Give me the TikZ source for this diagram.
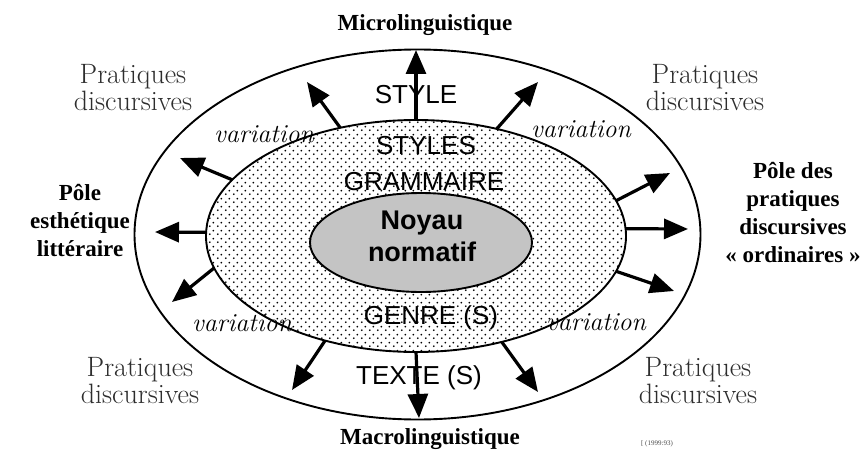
\documentclass[tikz,border=0pt]{standalone}
\usepackage{fontspec}
\setsansfont{Liberation Sans}
\newfontfamily\timesfont{Liberation Serif}
\usetikzlibrary{shapes.geometric,arrows.meta,patterns}
\pgfdeclarepatternformonly{sparsedots}{\pgfqpoint{0pt}{0pt}}{\pgfqpoint{8pt}{8pt}}{\pgfqpoint{8pt}{8pt}}{%
  \pgfpathcircle{\pgfqpoint{2pt}{2pt}}{1.1pt}%
  \pgfpathcircle{\pgfqpoint{6pt}{6pt}}{1.1pt}%
  \pgfusepath{fill}}
\definecolor{coregray}{RGB}{196,196,196}
\definecolor{txtgray}{RGB}{45,45,45}
\tikzset{
  ring/.style={ellipse, draw, line width=1.9pt, inner sep=0pt, outer sep=0pt},
  push/.style={line width=3.2pt, -{Triangle[length=24pt,width=20pt]}},
  sanslabel/.style={font=\sffamily\fontsize{26}{28}\selectfont, inner sep=0pt},
  varlabel/.style={font=\itshape\fontsize{26}{28}\selectfont, inner sep=0pt},
  praclabel/.style={font=\fontsize{28}{27}\selectfont, align=center, inner sep=0pt, text=txtgray},
  polelabel/.style={font=\timesfont\bfseries\fontsize{23}{28}\selectfont, align=center, inner sep=0pt},
}
\begin{document}
\begin{tikzpicture}[x=1pt,y=-1pt]
\useasboundingbox[fill=white] (0,0) rectangle (863,452);
% ellipses
\node[ring, minimum width=566pt, minimum height=370pt] (outer) at (417.5,234.5) {};
\node[ring, minimum width=420pt, minimum height=232pt, pattern=sparsedots] (mid) at (416,236) {};
\node[ring, minimum width=222pt, minimum height=99pt, fill=coregray] (core) at (421,242.5) {};
% texts inside
\node[sanslabel] (style) at (416,95) {STYLE};
\node[sanslabel] (styles) at (426,146) {STYLES};
\node[sanslabel] (gram) at (424,182) {GRAMMAIRE};
\node[sanslabel, font=\sffamily\bfseries\fontsize{27}{32}\selectfont, align=center] (noyau) at (422,236) {Noyau\\normatif};
\node[sanslabel] (genre) at (431,318) {GENRE (S)};
\node[sanslabel] (texte) at (419,378) {TEXTE (S)};
% variation labels
\node[varlabel] (v1) at (264,134) {variation};
\node[varlabel] (v2) at (581,129) {variation};
\node[varlabel] (v3) at (242,323) {variation};
\node[varlabel] (v4) at (596,322) {variation};
% outer labels
\node[praclabel] (p1) at (133,88) {Pratiques\\discursives};
\node[praclabel] (p2) at (705,88) {Pratiques\\discursives};
\node[praclabel] (p3) at (140,381) {Pratiques\\discursives};
\node[praclabel] (p4) at (698,381) {Pratiques\\discursives};
\node[polelabel] (micro) at (425,25) {Microlinguistique};
\node[polelabel] (macro) at (430,439) {Macrolinguistique};
\node[polelabel] (esth) at (80,221) {Pôle\\esthétique\\littéraire};
\node[polelabel] (ordi) at (793,213) {Pôle des\\pratiques\\discursives\\« ordinaires »};
\node[font=\timesfont\fontsize{7}{8}\selectfont, text=black!70, inner sep=0pt] (src) at (657,444) {[ (1999:93)};
% arrow tips
\coordinate (t1) at (416,50);
\coordinate (t2) at (307,82);
\coordinate (t3) at (180,158);
\coordinate (t4) at (155,232);
\coordinate (t5) at (172,302);
\coordinate (t6) at (292,390);
\coordinate (t7) at (419,418);
\coordinate (t8) at (538,392);
\coordinate (t9) at (674,291);
\coordinate (t10) at (688,229);
\coordinate (t11) at (670,173);
\coordinate (t12) at (538,82);
% arrows
\draw[push] (mid.90) -- (t1);
\draw[push] (mid.125) -- (t2);
\draw[push] (mid.163) -- (t3);
\draw[push] (mid.179) -- (t4);
\draw[push] (mid.189) -- (t5);
\draw[push] (mid.229) -- (t6);
\draw[push] (mid.270) -- (t7);
\draw[push] (mid.309) -- (t8);
\draw[push] (mid.350) -- (t9);
\draw[push] (mid.2) -- (t10);
\draw[push] (mid.10) -- (t11);
\draw[push] (mid.53) -- (t12);
\end{tikzpicture}
\end{document}
